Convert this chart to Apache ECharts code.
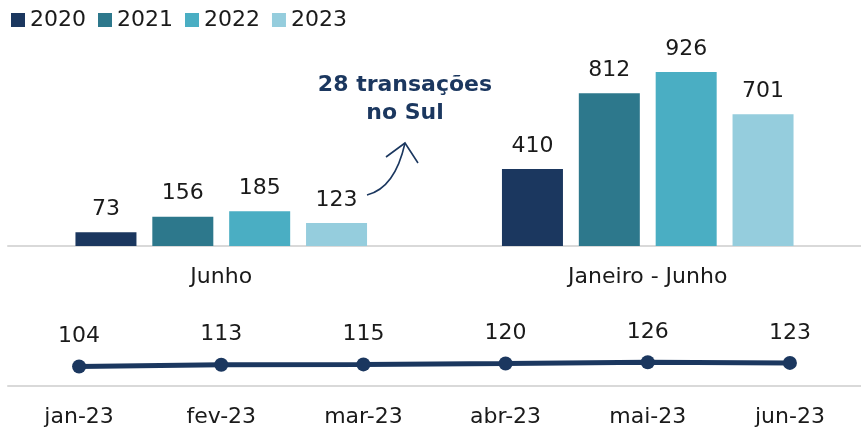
<!DOCTYPE html>
<html>
<head>
<meta charset="utf-8">
<script src="https://cdn.jsdelivr.net/npm/echarts@6/dist/echarts.min.js"></script>
<style>
  html, body { margin: 0; padding: 0; background: #fff; }
  #chart { width: 861px; height: 431px; }
</style>
</head>
<body>
<div id="chart"></div>
<script>
// bar part: two periods, one series per year
const periods = ['Junho', 'Janeiro - Junho'];
const years = ['2020', '2021', '2022', '2023'];
const v2020 = [73, 410];
const v2021 = [156, 812];
const v2022 = [185, 926];
const v2023 = [123, 701];

// line part: monthly 2023
const months = ['jan-23', 'fev-23', 'mar-23', 'abr-23', 'mai-23', 'jun-23'];
const monthly = [104, 113, 115, 120, 126, 123];

const colors = ['#1b375f', '#2d788c', '#4aaec3', '#95cddd'];
const FONT = 'DejaVu Sans';

const chart = echarts.init(document.getElementById('chart'));

const barValues = [v2020, v2021, v2022, v2023];
const barSeries = years.map((y, i) => ({
  name: y,
  type: 'bar',
  xAxisIndex: 0,
  yAxisIndex: 0,
  data: barValues[i],
  barWidth: 61,
  barGap: '26%',
  itemStyle: { color: colors[i] },
  label: {
    show: true,
    position: 'top',
    distance: 12,
    color: '#1a1a1a',
    fontFamily: FONT,
    fontSize: 22
  }
}));

const option = {
  animation: false,
  textStyle: { fontFamily: FONT },
  legend: {
    data: years,
    left: 6,
    top: 4,
    icon: 'rect',
    itemWidth: 14,
    itemHeight: 14,
    itemGap: 12,
    textStyle: { fontFamily: FONT, fontSize: 22, color: '#1a1a1a' }
  },
  grid: [
    { left: 8, right: 0, top: 58, height: 188 },
    { left: 8, right: 0, top: 198, height: 188 }
  ],
  xAxis: [
    {
      type: 'category',
      gridIndex: 0,
      data: periods,
      axisLine: { lineStyle: { color: '#d9d9d9', width: 2 } },
      axisTick: { show: false },
      axisLabel: { margin: 20, fontFamily: FONT, fontSize: 22, color: '#1a1a1a' }
    },
    {
      type: 'category',
      gridIndex: 1,
      data: months,
      axisLine: { lineStyle: { color: '#d9d9d9', width: 2 } },
      axisTick: { show: false },
      axisLabel: { margin: 20, fontFamily: FONT, fontSize: 22, color: '#1a1a1a' }
    }
  ],
  yAxis: [
    { type: 'value', gridIndex: 0, min: 0, max: 1000, show: false },
    { type: 'value', gridIndex: 1, min: 0, max: 1000, show: false }
  ],
  series: barSeries.concat([{
    name: 'mensal',
    type: 'line',
    xAxisIndex: 1,
    yAxisIndex: 1,
    data: monthly,
    symbol: 'circle',
    symbolSize: 14,
    lineStyle: { color: '#1b375f', width: 5 },
    itemStyle: { color: '#1b375f' },
    label: {
      show: true,
      position: 'top',
      distance: 12,
      color: '#1a1a1a',
      fontFamily: FONT,
      fontSize: 22
    }
  }]),
  graphic: [
    {
      type: 'text',
      x: 405,
      y: 71,
      style: {
        text: '28 transações\nno Sul',
        fontFamily: FONT,
        fontWeight: 'bold',
        fontSize: 22,
        lineHeight: 28,
        fill: '#1b375f',
        align: 'center',
        verticalAlign: 'top'
      }
    },
    {
      type: 'bezierCurve',
      shape: { x1: 367, y1: 195, x2: 405, y2: 143, cpx1: 395, cpy1: 188 },
      style: { stroke: '#1b375f', lineWidth: 1.6, fill: null }
    },
    {
      type: 'polyline',
      shape: { points: [[386, 157], [405, 143], [418, 163]] },
      style: { stroke: '#1b375f', lineWidth: 1.6, fill: null }
    }
  ]
};

chart.setOption(option);
</script>
</body>
</html>
